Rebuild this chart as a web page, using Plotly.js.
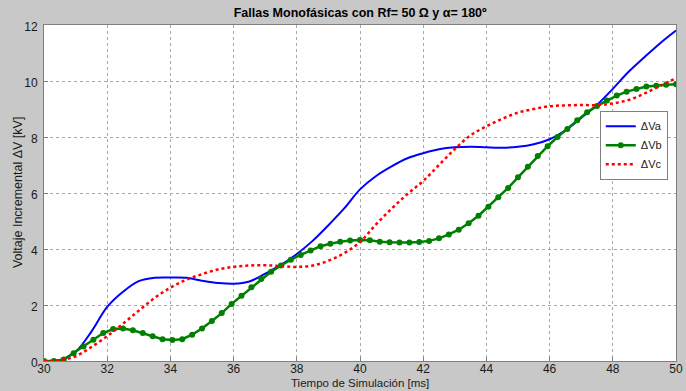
<!DOCTYPE html>
<html>
<head>
<meta charset="utf-8">
<script src="https://cdn.plot.ly/plotly-3.0.1.min.js"></script>
<style>html,body{margin:0;padding:0;background:#c8c8c8;}#chart{width:686px;height:391px;}</style>
</head>
<body>
<div id="chart"></div>
<script>
// Time (ms) for the smooth curves, 0.5 ms steps
const tSmooth = [30,30.5,31,31.5,32,32.5,33,33.5,34,34.5,35,35.5,36,36.5,37,37.5,38,38.5,39,39.5,40,40.5,41,41.5,42,42.5,43,43.5,44,44.5,45,45.5,46,46.5,47,47.5,48,48.5,49,49.5,50];
// ΔVa [kV]
const dVa = [0,0.03,0.33,1.05,1.93,2.47,2.85,2.97,2.98,2.97,2.87,2.79,2.76,2.84,3.12,3.43,3.82,4.29,4.85,5.45,6.13,6.6,6.95,7.24,7.42,7.56,7.63,7.65,7.63,7.62,7.65,7.74,7.92,8.24,8.68,9.15,9.72,10.33,10.85,11.35,11.8];
// ΔVc [kV]
const dVc = [0,0.03,0.17,0.5,0.89,1.33,1.8,2.25,2.62,2.9,3.1,3.27,3.36,3.41,3.42,3.39,3.36,3.41,3.58,3.85,4.25,4.87,5.44,5.96,6.43,7.0,7.57,8.06,8.38,8.65,8.87,9.0,9.1,9.13,9.14,9.14,9.2,9.32,9.55,9.83,10.1];
// Time (ms) for the sampled ΔVb series (markers)
const tB = [30,30.3125,30.625,30.9375,31.25,31.5625,31.875,32.1875,32.5,32.8125,33.125,33.4375,33.75,34.0625,34.375,34.6875,35,35.3125,35.625,35.9375,36.25,36.5625,36.875,37.1875,37.5,37.8125,38.125,38.4375,38.75,39.0625,39.375,39.6875,40,40.3125,40.625,40.9375,41.25,41.5625,41.875,42.1875,42.5,42.8125,43.125,43.4375,43.75,44.0625,44.375,44.6875,45,45.3125,45.625,45.9375,46.25,46.5625,46.875,47.1875,47.5,47.8125,48.125,48.4375,48.75,49.0625,49.375,49.6875,50];
// ΔVb [kV]
const dVb = [0,0,0.05,0.28,0.52,0.76,1.0,1.14,1.16,1.1,1.0,0.88,0.78,0.75,0.78,0.94,1.16,1.43,1.71,2.04,2.33,2.63,2.93,3.19,3.41,3.62,3.79,3.95,4.1,4.19,4.26,4.3,4.32,4.31,4.26,4.24,4.23,4.23,4.25,4.29,4.38,4.52,4.69,4.92,5.19,5.51,5.85,6.18,6.56,6.94,7.32,7.67,8.0,8.29,8.6,8.88,9.11,9.3,9.48,9.62,9.71,9.8,9.83,9.87,9.88];

const xTicks = [30,32,34,36,38,40,42,44,46,48,50];
const yTicks = [0,2,4,6,8,10,12];
const seriesNames = ['\u0394Va','\u0394Vb','\u0394Vc'];
const titleText = '<b>Fallas Monofásicas con Rf= 50 \u03A9 y \u03B1= 180º</b>';
const xTitle = 'Tiempo de Simulación [ms]';
const yTitle = 'Voltaje Incremental \u0394V [kV]';

const FONT = 'Liberation Sans, Arial, sans-serif';

const traces = [
  {x: tSmooth, y: dVa, name: seriesNames[0], mode: 'lines', line: {color: '#0000ff', width: 2, shape: 'spline'}},
  {x: tB, y: dVb, name: seriesNames[1], mode: 'lines+markers', line: {color: '#008000', width: 2.5}, marker: {color: '#008000', size: 6}},
  {x: tSmooth, y: dVc, name: seriesNames[2], mode: 'lines', line: {color: '#ff0000', width: 2.5, dash: 'dot', shape: 'spline'}}
];

const axisCommon = {
  showgrid: true, gridcolor: '#a8a8a8', griddash: 'dot', gridwidth: 1,
  showline: true, linecolor: '#7f7f7f', linewidth: 1, mirror: true,
  ticks: 'inside', ticklen: 4, tickcolor: '#7f7f7f',
  zeroline: false, automargin: false,
  tickfont: {family: FONT, size: 12, color: '#1a1a1a'}
};

const layout = {
  width: 686, height: 391,
  margin: {l: 44, r: 10, t: 25, b: 30},
  paper_bgcolor: '#c8c8c8', plot_bgcolor: '#ffffff',
  font: {family: FONT, color: '#1a1a1a'},
  title: {text: titleText, font: {family: FONT, size: 12.5, color: '#000'}, x: 0.525, xanchor: 'center', y: 0.968, yanchor: 'middle', yref: 'container'},
  xaxis: Object.assign({}, axisCommon, {range: [30, 50], tickvals: xTicks, ticktext: xTicks.map(String), ticklabelstandoff: -3}),
  yaxis: Object.assign({}, axisCommon, {range: [0, 12], tickvals: yTicks, ticktext: yTicks.map(String), ticklabelstandoff: 3, ticklabelshift: 2}),
  annotations: [
    {text: xTitle, xref: 'paper', yref: 'paper', x: 0.5, y: -0.0893, xanchor: 'center', yanchor: 'bottom', showarrow: false,
     font: {family: FONT, size: 11.5, color: '#1a1a1a'}},
    {text: yTitle, xref: 'paper', yref: 'paper', x: -0.041, y: 0.5, xanchor: 'center', yanchor: 'middle', textangle: -90, showarrow: false,
     font: {family: FONT, size: 12.5, color: '#1a1a1a'}}
  ],
  showlegend: true,
  legend: {x: 0.987, y: 0.745, xanchor: 'right', yanchor: 'top', bgcolor: '#ffffff', bordercolor: '#7f7f7f', borderwidth: 1,
    font: {family: FONT, size: 11, color: '#1a1a1a'}, itemwidth: 30, tracegroupgap: 0}
};

Plotly.newPlot('chart', traces, layout, {displayModeBar: false, staticPlot: true});
</script>
</body>
</html>
